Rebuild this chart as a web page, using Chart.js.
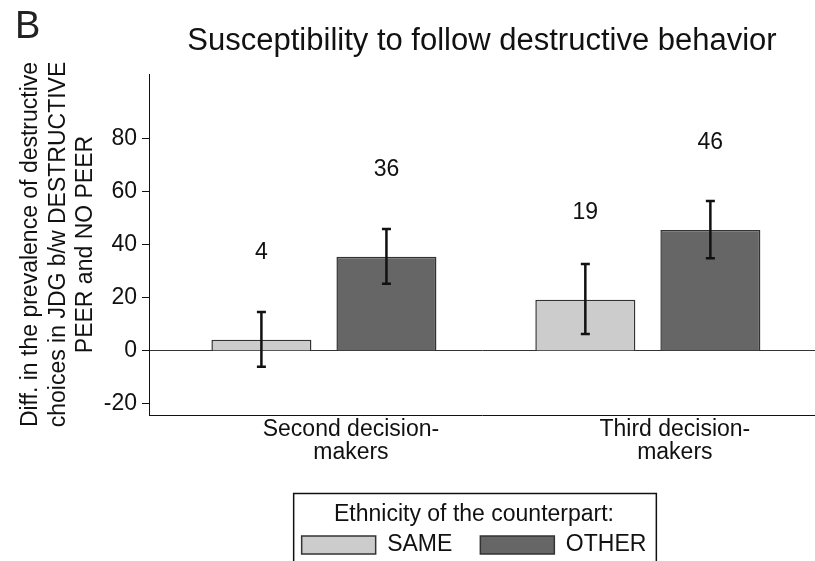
<!DOCTYPE html>
<html>
<head>
<title>Susceptibility to follow destructive behavior</title>
<script src="https://cdn.jsdelivr.net/npm/chart.js"></script>
<style>
  html, body { margin: 0; padding: 0; background: #fff; }
</style>
</head>
<body>
<canvas id="myChart" width="815" height="561"></canvas>
<script>
// values
var categories = [['Second decision-', 'makers'], ['Third decision-', 'makers']];
var seriesNames = ['SAME', 'OTHER'];
var sameValues = [4.2, 19.3];
var otherValues = [35.5, 45.6];
var sameLow = [-6.0, 6.4];
var sameHigh = [14.7, 32.8];
var otherLow = [25.3, 35.0];
var otherHigh = [46.0, 56.6];
var yTicks = [-20, 0, 20, 40, 60, 80];

var FONT = '"Liberation Sans", Arial, sans-serif';
var INK = '#111';
var labelGap = 33; // value labels sit this many units above the bar
// x range in category units (groups are not centred in the plot area)
var xStart = -0.54, xRange = 2.056;

var extras = {
    id: 'extras',
    afterLayout: function (chart) {
        // legend box sits a little left of the plot centre
        chart.legend.left -= 8;
        chart.legend.right -= 8;
    },
    afterDatasetsDraw: function (chart) {
        var ctx = chart.ctx;
        var y = chart.scales.y;
        var errs = [[sameLow, sameHigh], [otherLow, otherHigh]];
        errs.forEach(function (err, di) {
            chart.getDatasetMeta(di).data.forEach(function (bar, i) {
                var yl = y.getPixelForValue(err[0][i]);
                var yh = y.getPixelForValue(err[1][i]);
                ctx.save();
                ctx.strokeStyle = INK;
                ctx.lineWidth = 2.5;
                ctx.beginPath();
                ctx.moveTo(bar.x, yl); ctx.lineTo(bar.x, yh);
                ctx.moveTo(bar.x - 4.5, yl); ctx.lineTo(bar.x + 4.5, yl);
                ctx.moveTo(bar.x - 4.5, yh); ctx.lineTo(bar.x + 4.5, yh);
                ctx.stroke();
                var v = chart.data.datasets[di].data[i];
                ctx.fillStyle = INK;
                ctx.font = '23px ' + FONT;
                ctx.textAlign = 'center';
                ctx.textBaseline = 'middle';
                ctx.fillText(String(Math.round(v)), bar.x, y.getPixelForValue(v + labelGap));
                ctx.restore();
            });
        });
    },
    afterDraw: function (chart) {
        var ctx = chart.ctx;
        var lg = chart.legend;
        var boxes = lg.legendHitBoxes;
        if (boxes && boxes.length) {
            var last = boxes[boxes.length - 1];
            var l = boxes[0].left - 8, r = last.left + last.width + 10;
            ctx.save();
            ctx.strokeStyle = INK;
            ctx.lineWidth = 1.5;
            ctx.strokeRect(l, lg.top + 0.5, r - l, chart.height);
            ctx.restore();
        }
        ctx.save();
        ctx.fillStyle = '#222';
        ctx.font = '38px ' + FONT;
        ctx.textBaseline = 'alphabetic';
        ctx.fillText('B', 15, 38);
        ctx.restore();
    }
};

var ctx = document.getElementById('myChart').getContext('2d');
var chart = new Chart(ctx, {
    type: 'bar',
    data: {
        labels: categories,
        datasets: [{
            label: seriesNames[0],
            data: sameValues,
            backgroundColor: '#cccccc',
            borderColor: '#333',
            borderWidth: 1.5
        }, {
            label: seriesNames[1],
            data: otherValues,
            backgroundColor: '#666666',
            borderColor: '#333',
            borderWidth: 1.5
        }]
    },
    options: {
        responsive: false,
        animation: false,
        barPercentage: 0.8,
        categoryPercentage: 0.772,
        layout: { padding: { left: 0, right: 0, top: 0, bottom: -5.5 } },
        scales: {
            x: {
                offset: true,
                afterBuildTicks: function (s) {
                    s._startValue = xStart;
                    s._valueRange = xRange;
                },
                grid: { display: false, drawTicks: false },
                border: { color: INK, width: 1 },
                ticks: {
                    color: INK,
                    font: { family: FONT, size: 23, lineHeight: 1 },
                    padding: 3.5,
                    labelOffset: 27,
                    maxRotation: 0
                },
                afterFit: function (s) { s.height = 78; }
            },
            y: {
                min: -24.2,
                max: 104.5,
                afterBuildTicks: function (s) {
                    s.ticks = yTicks.map(function (v) { return { value: v }; });
                },
                afterFit: function (s) { s.width = 149; },
                grid: {
                    color: function (c) { return c.tick && c.tick.value === 0 ? '#333' : 'rgba(0,0,0,0)'; },
                    tickColor: INK,
                    tickLength: 7,
                    lineWidth: 1
                },
                border: { color: INK, width: 1 },
                ticks: {
                    color: INK,
                    font: { family: FONT, size: 23 },
                    padding: 5
                },
                title: {
                    display: true,
                    text: ['Diff. in the prevalence of destructive', 'choices in JDG b/w DESTRUCTIVE', 'PEER and NO PEER'],
                    color: INK,
                    font: { family: FONT, size: 23, lineHeight: 1.2 },
                    padding: { top: 17, bottom: 0 }
                }
            }
        },
        plugins: {
            title: {
                display: true,
                fullSize: false,
                text: 'Susceptibility to follow destructive behavior',
                color: INK,
                font: { family: FONT, size: 31, weight: 'normal', lineHeight: 1.2 },
                padding: { top: 23, bottom: 13.8 }
            },
            legend: {
                position: 'bottom',
                fullSize: false,
                labels: {
                    boxWidth: 74,
                    boxHeight: 18,
                    padding: 28,
                    color: INK,
                    font: { family: FONT, size: 23 }
                },
                title: {
                    display: true,
                    text: 'Ethnicity of the counterpart:',
                    color: INK,
                    font: { family: FONT, size: 23, lineHeight: 1.2 },
                    padding: { top: 10.5, bottom: -25.6 }
                }
            },
            tooltip: { enabled: false }
        }
    },
    plugins: [extras]
});
</script>
</body>
</html>
